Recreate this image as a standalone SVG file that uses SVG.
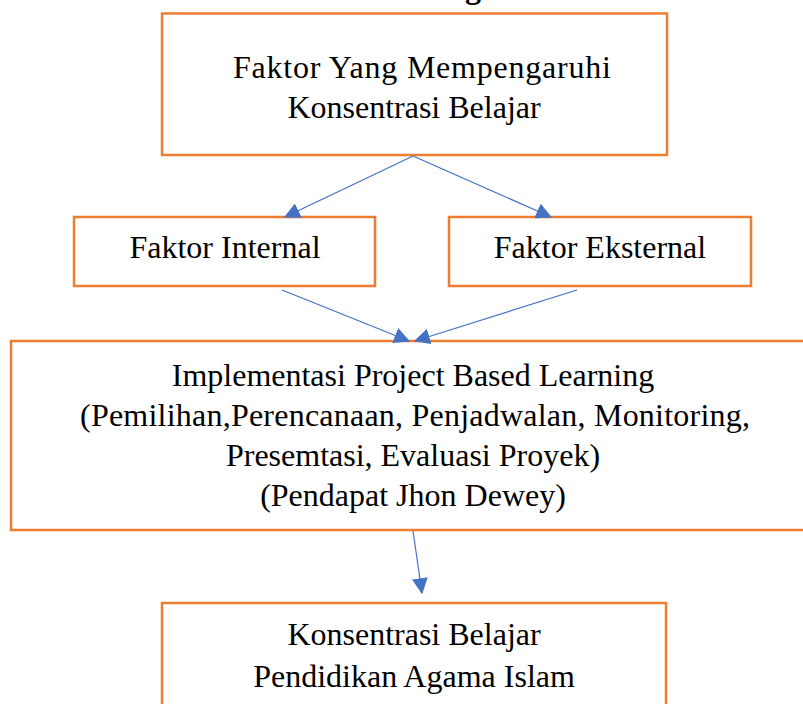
<svg xmlns="http://www.w3.org/2000/svg" width="803" height="704" viewBox="0 0 803 704">
<defs>
<style>
.box{fill:#fff;stroke:#ED7D31;stroke-width:2.5}
.t{font-family:"Liberation Serif","Times New Roman",serif;font-size:32px;fill:#000;text-anchor:middle}
.c{stroke:#4472C4;stroke-width:1.2;fill:none;marker-end:url(#ah)}
</style>
<marker id="ah" markerUnits="userSpaceOnUse" markerWidth="16" markerHeight="16" viewBox="0 0 14 14" refX="13" refY="7" orient="auto">
<path d="M0,0 L14,7 L0,14 Z" fill="#4472C4"/>
</marker>
</defs>
<rect width="803" height="704" fill="#fff"/>
<text x="473" y="-2" class="t" style="font-weight:bold">g</text>
<g id="n1">
<rect class="box" x="162" y="13.5" width="505" height="141.5"/>
<text class="t" x="422" y="78" textLength="378" lengthAdjust="spacing">Faktor Yang Mempengaruhi</text>
<text class="t" x="414" y="118">Konsentrasi Belajar</text>
</g>
<g id="n2">
<rect class="box" x="74" y="217" width="301" height="69"/>
<text class="t" x="225" y="258">Faktor Internal</text>
</g>
<g id="n3">
<rect class="box" x="449" y="217" width="302" height="69"/>
<text class="t" x="600" y="258">Faktor Eksternal</text>
</g>
<g id="n4">
<rect class="box" x="11" y="341" width="800" height="189"/>
<text class="t" x="413" y="386">Implementasi Project Based Learning</text>
<text class="t" x="415" y="426" textLength="670" lengthAdjust="spacing">(Pemilihan,Perencanaan, Penjadwalan, Monitoring,</text>
<text class="t" x="413" y="466">Presemtasi, Evaluasi Proyek)</text>
<text class="t" x="413" y="506">(Pendapat Jhon Dewey)</text>
</g>
<g id="n5">
<rect class="box" x="162" y="603" width="504" height="120"/>
<text class="t" x="414" y="645">Konsentrasi Belajar</text>
<text class="t" x="414" y="687">Pendidikan Agama Islam</text>
</g>
<g id="connectors">
<line class="c" x1="413" y1="156" x2="285" y2="217"/>
<line class="c" x1="413" y1="156" x2="551" y2="217"/>
<line class="c" x1="282" y1="290" x2="409" y2="341"/>
<line class="c" x1="577" y1="290" x2="415" y2="341"/>
<line class="c" x1="413" y1="531" x2="422" y2="593"/>
</g>
</svg>
